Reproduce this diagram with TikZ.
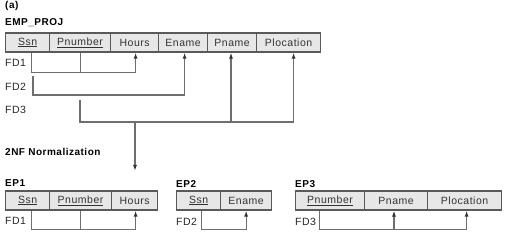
\documentclass[tikz,border=0pt]{standalone}
\usepackage{fontspec}
\setmainfont{Liberation Sans}
\newfontfamily\widesans[LetterSpace=5]{Liberation Sans}
\usetikzlibrary{arrows.meta}
\definecolor{cellfill}{RGB}{231,231,231}
\definecolor{cellline}{RGB}{90,90,90}
\definecolor{fdline}{RGB}{110,110,110}

\begin{document}
\begin{tikzpicture}[x=1pt,y=-1pt,>={Latex[length=6pt,width=4pt,color=black!80]},
  cell/.style={draw=cellline,fill=cellfill,line width=1.2pt,minimum height=19pt,
    inner sep=0pt,anchor=west,text=black!80,font=\widesans\fontsize{10.5}{12}\selectfont},
  fd/.style={draw=fdline,line width=1.2pt},
  lbl/.style={anchor=west,inner sep=0pt,font=\widesans\bfseries\fontsize{10}{12}\selectfont},
  fdlbl/.style={anchor=west,inner sep=0pt,text=black!85,font=\widesans\fontsize{10.5}{12}\selectfont}]
  \useasboundingbox (0,0) rectangle (507,237);

  \node[lbl] (tag) at (5,6) {(a)};
  \node[lbl] (empproj) at (5,23) {EMP\_PROJ};

  % EMP_PROJ
  \node[cell,minimum width=44pt] (ssn) at (5,42.5) {\underline{Ssn}};
  \node[cell,minimum width=61pt] (pnumber) at (49,42.5) {\underline{Pnumber}};
  \node[cell,minimum width=48pt] (hours) at (110,42.5) {Hours};
  \node[cell,minimum width=49pt] (ename) at (158,42.5) {Ename};
  \node[cell,minimum width=49pt] (pname) at (207,42.5) {Pname};
  \node[cell,minimum width=64pt] (plocation) at (256,42.5) {Plocation};

  \node[fdlbl] (fdone) at (5,63) {FD1};
  \node[fdlbl] (fdtwo) at (5,87) {FD2};
  \node[fdlbl] (fdthree) at (5,110) {FD3};

  % FD1
  \draw[fd,->] ([xshift=4pt]ssn.south) -- ++(0,20) -| ([xshift=1pt]hours.south);
  \draw[fd] (pnumber.south) -- ++(0,20);
  % FD2
  \coordinate (fdtwostart) at (33,76);
  \draw[fd,->] (fdtwostart) -- ++(0,19) -| ([xshift=1.5pt]ename.south);
  % FD3
  \coordinate (fdthreestart) at (80,100);
  \draw[fd,->] (fdthreestart) -- ++(0,22) -| ([xshift=5pt]plocation.south);
  \coordinate (fdthreemid) at (231,122);
  \draw[fd,->] (fdthreemid) -- (fdthreemid |- pname.south);

  % normalization
  \coordinate (nfstart) at (135,122);
  \coordinate (nfend) at (135,171);
  \draw[fd,->] (nfstart) -- (nfend);
  \node[lbl] (nflabel) at (5,152) {2NF Normalization};

  % EP1
  \node[lbl] (epone) at (5,183) {EP1};
  \node[cell,minimum width=44pt] (ssna) at (5,200.5) {\underline{Ssn}};
  \node[cell,minimum width=62pt] (pnumbera) at (49,200.5) {\underline{Pnumber}};
  \node[cell,minimum width=46pt] (hoursa) at (111,200.5) {Hours};
  \node[fdlbl] (fdonea) at (5,221) {FD1};
  \draw[fd,->] ([xshift=4pt]ssna.south) -- ++(0,19) -| ([xshift=1pt]hoursa.south);
  \draw[fd] (pnumbera.south) -- ++(0,19);

  % EP2
  \node[lbl] (eptwo) at (176,184) {EP2};
  \node[cell,minimum width=44pt] (ssnb) at (176,200.5) {\underline{Ssn}};
  \node[cell,minimum width=51pt] (enameb) at (220,200.5) {Ename};
  \node[fdlbl] (fdtwob) at (176,222) {FD2};
  \draw[fd,->] ([xshift=3pt]ssnb.south) -- ++(0,19) -| (enameb.south);

  % EP3
  \node[lbl] (epthree) at (295,184) {EP3};
  \node[cell,minimum width=69pt] (pnumberc) at (295,200.5) {\underline{Pnumber}};
  \node[cell,minimum width=63pt] (pnamec) at (364,200.5) {Pname};
  \node[cell,minimum width=74pt] (plocationc) at (427,200.5) {Plocation};
  \node[fdlbl] (fdthreec) at (295,222) {FD3};
  \draw[fd,->] ([xshift=-11pt]pnumberc.south) -- ++(0,19) -| ([xshift=2pt]plocationc.south);
  \coordinate (fdthreecmid) at (394,229);
  \draw[fd,->] (fdthreecmid) -- (fdthreecmid |- pnamec.south);
\end{tikzpicture}
\end{document}
